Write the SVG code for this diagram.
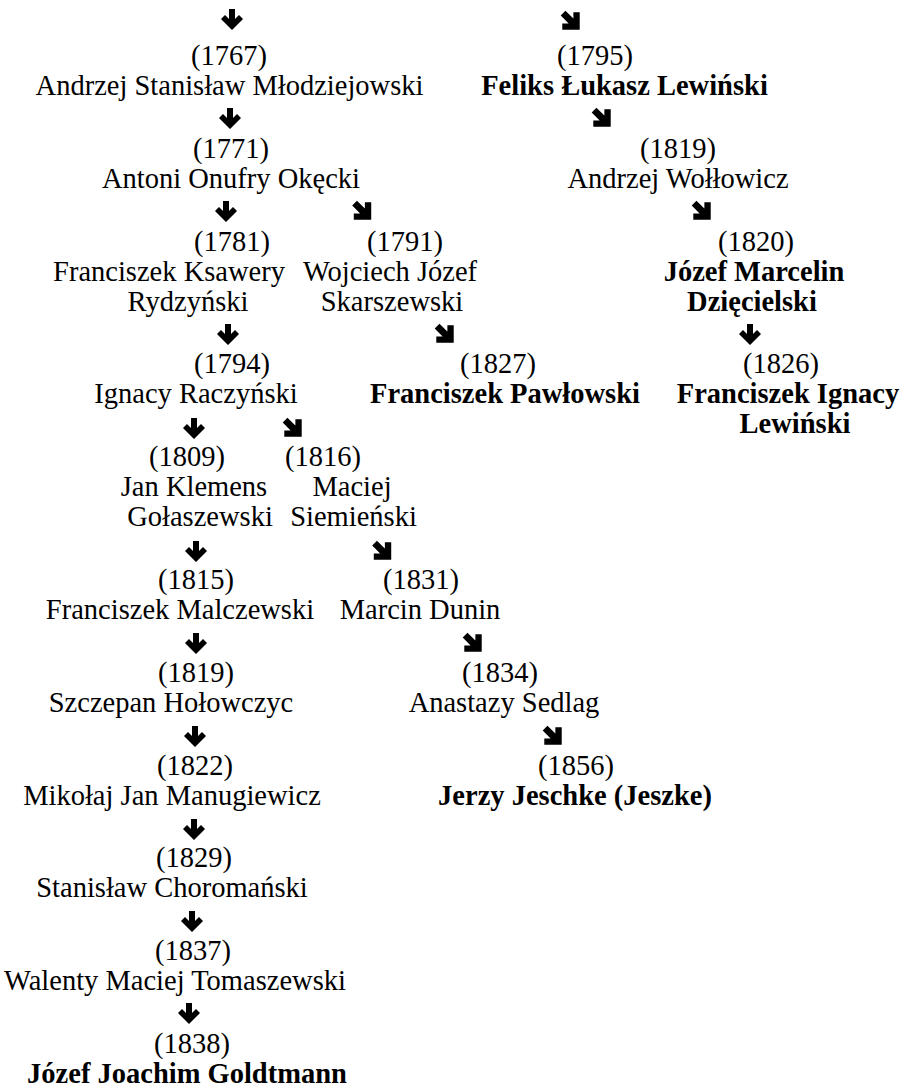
<svg xmlns="http://www.w3.org/2000/svg" width="907" height="1090" viewBox="0 0 907 1090" font-family="'Liberation Serif', 'Times New Roman', serif">
<style>
text{font-family:"Liberation Serif","Times New Roman",serif;font-size:28.5px;fill:#000;text-anchor:middle}
.b{font-weight:bold}
.ar{fill:#000}
</style>
<defs>
<path id="dn" d="M-3,-10 H3 V0 L7,-4 L11,0 L0,11 L-11,0 L-7,-4 L-3,0 Z"/>
<path id="dg" d="M-3,-10 H3 V0 L7,-4 L11,0 L0,11 L-11,0 L-7,-4 L-3,0 Z" transform="rotate(-45) scale(1.12)"/>
</defs>
<rect width="907" height="1090" fill="#fff"/>
<g id="connectors" class="ar">
<use href="#dn" transform="translate(232,19)"/>
<use href="#dg" transform="translate(571,21)"/>
<use href="#dn" transform="translate(230,118)"/>
<use href="#dg" transform="translate(602,118)"/>
<use href="#dn" transform="translate(226,211)"/>
<use href="#dg" transform="translate(362.5,211)"/>
<use href="#dg" transform="translate(702,211)"/>
<use href="#dn" transform="translate(228,334)"/>
<use href="#dg" transform="translate(445,334)"/>
<use href="#dn" transform="translate(750,334)"/>
<use href="#dn" transform="translate(194,428)"/>
<use href="#dg" transform="translate(293,428)"/>
<use href="#dn" transform="translate(196,551)"/>
<use href="#dg" transform="translate(382.5,551)"/>
<use href="#dn" transform="translate(196,643)"/>
<use href="#dg" transform="translate(473,643)"/>
<use href="#dn" transform="translate(195,736)"/>
<use href="#dg" transform="translate(553,736)"/>
<use href="#dn" transform="translate(194,829)"/>
<use href="#dn" transform="translate(192,921)"/>
<use href="#dn" transform="translate(189,1013)"/>
</g>
<g id="n1767"><text x="229" y="65">(1767)</text><text x="229.5" y="95">Andrzej Stanisław Młodziejowski</text></g>
<g id="n1795"><text x="595" y="65">(1795)</text><text class="b" x="624.5" y="95">Feliks Łukasz Lewiński</text></g>
<g id="n1771"><text x="231" y="157.8">(1771)</text><text x="231" y="187.8">Antoni Onufry Okęcki</text></g>
<g id="n1819a"><text x="678" y="157.8">(1819)</text><text x="678" y="187.8">Andrzej Wołłowicz</text></g>
<g id="n1781"><text x="232" y="250.6">(1781)</text><text x="169" y="280.6">Franciszek Ksawery</text><text x="188" y="310.6">Rydzyński</text></g>
<g id="n1791"><text x="405" y="250.6">(1791)</text><text x="390" y="280.6">Wojciech Józef</text><text x="392" y="310.6">Skarszewski</text></g>
<g id="n1820"><text x="756" y="250.6">(1820)</text><text class="b" x="754" y="280.6">Józef Marcelin</text><text class="b" x="752" y="310.6">Dzięcielski</text></g>
<g id="n1794"><text x="232" y="373.4">(1794)</text><text x="196" y="403.4">Ignacy Raczyński</text></g>
<g id="n1827"><text x="498" y="373.4">(1827)</text><text class="b" x="505" y="403.4">Franciszek Pawłowski</text></g>
<g id="n1826"><text x="781" y="373.4">(1826)</text><text class="b" x="788" y="403.4">Franciszek Ignacy</text><text class="b" x="795" y="433.4">Lewiński</text></g>
<g id="n1809"><text x="187" y="466.2">(1809)</text><text x="194" y="496.2">Jan Klemens</text><text x="200" y="526.2">Gołaszewski</text></g>
<g id="n1816"><text x="323" y="466.2">(1816)</text><text x="352" y="496.2">Maciej</text><text x="353.5" y="526.2">Siemieński</text></g>
<g id="n1815"><text x="196" y="589">(1815)</text><text x="180" y="619">Franciszek Malczewski</text></g>
<g id="n1831"><text x="421" y="589">(1831)</text><text x="420" y="619">Marcin Dunin</text></g>
<g id="n1819b"><text x="196" y="681.8">(1819)</text><text x="171" y="711.8">Szczepan Hołowczyc</text></g>
<g id="n1834"><text x="500" y="681.8">(1834)</text><text x="504" y="711.8">Anastazy Sedlag</text></g>
<g id="n1822"><text x="195" y="774.6">(1822)</text><text x="172" y="804.6">Mikołaj Jan Manugiewicz</text></g>
<g id="n1856"><text x="576" y="774.6">(1856)</text><text class="b" x="575" y="804.6">Jerzy Jeschke (Jeszke)</text></g>
<g id="n1829"><text x="194" y="867.4">(1829)</text><text x="172" y="897.4">Stanisław Choromański</text></g>
<g id="n1837"><text x="193" y="960.2">(1837)</text><text x="175" y="990.2">Walenty Maciej Tomaszewski</text></g>
<g id="n1838"><text x="192" y="1053">(1838)</text><text class="b" x="187" y="1083">Józef Joachim Goldtmann</text></g>
</svg>
